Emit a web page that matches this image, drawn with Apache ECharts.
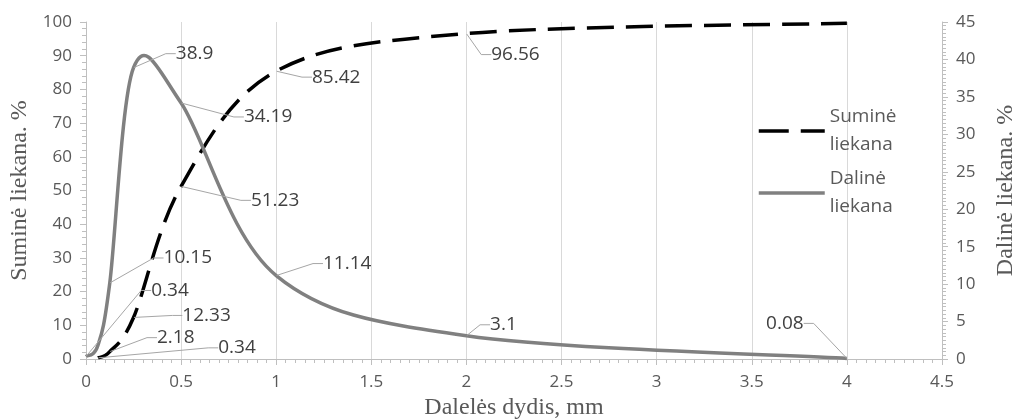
<!DOCTYPE html>
<html>
<head>
<meta charset="utf-8">
<script src="https://cdn.jsdelivr.net/npm/echarts@6/dist/echarts.min.js"></script>
<style>
  html, body { margin: 0; padding: 0; background: #ffffff; }
  #chart { width: 1016px; height: 420px; }
</style>
</head>
<body>
<div id="chart"></div>
<script>
// Particle size (mm) and residue (%) for the sieve analysis
const sizeSumine   = [0.063, 0.125, 0.25, 0.5, 1, 2, 4];
const valuesSumine = [0.34, 2.18, 12.33, 51.23, 85.42, 96.56, 99.66];
const sizeDaline   = [0, 0.063, 0.125, 0.25, 0.5, 1, 2, 4];
const valuesDaline = [0.34, 1.84, 10.15, 38.9, 34.19, 11.14, 3.1, 0.08];

// Points that carry a value callout
const labelledSumine = [true, true, true, true, true, true, false];
const labelledDaline = [true, false, true, true, true, true, true, true];

const seriesNames = ['Suminė liekana', 'Dalinė liekana'];
const xTitle = 'Dalelės dydis, mm';
const leftTitle = 'Suminė liekana. %';
const rightTitle = 'Dalinė liekana. %';

// Callout placement: offset (px) from a point to the centre of its label
const calloutSumine = [[139, -10], [66, -14], [73, -2], [94, 14], [60, 6], [49, 21], [0, 0]];
const calloutDaline = [[84, -66], [0, 0], [78, -25], [61, -14], [87, 14], [71, -12], [37, -11], [-62, -35]];

const sansFont = 'Open Sans';
const serifFont = 'Liberation Serif';
const tickColor = '#595959';
const axisColor = '#bfbfbf';

const styleSumine = { color: '#000000', width: 3.5, dash: [27, 12] };
const styleDaline = { color: '#808080', width: 3.5, dash: null };

// Smooth curve through the projected points (Catmull-Rom as cubic Bezier pieces)
function smoothPath(pts) {
  let d = 'M' + pts[0][0] + ',' + pts[0][1];
  for (let i = 0; i < pts.length - 1; i++) {
    const p0 = pts[i - 1] || pts[i];
    const p1 = pts[i];
    const p2 = pts[i + 1];
    const p3 = pts[i + 2] || p2;
    const c1x = p1[0] + (p2[0] - p0[0]) / 6, c1y = p1[1] + (p2[1] - p0[1]) / 6;
    const c2x = p2[0] - (p3[0] - p1[0]) / 6, c2y = p2[1] - (p3[1] - p1[1]) / 6;
    d += ' C' + c1x + ',' + c1y + ' ' + c2x + ',' + c2y + ' ' + p2[0] + ',' + p2[1];
  }
  return d;
}

function curveSeries(name, xs, ys, yAxisIndex, st) {
  return {
    name: name,
    type: 'custom',
    yAxisIndex: yAxisIndex,
    z: 1,
    silent: true,
    clip: false,
    data: xs.map((x, i) => [x, ys[i]]),
    encode: { x: 0, y: 1 },
    renderItem: (params, api) => {
      if (params.dataIndex !== 0) return null;
      const pts = xs.map((x, i) => api.coord([x, ys[i]]));
      return {
        type: 'path',
        shape: { pathData: smoothPath(pts) },
        style: {
          fill: 'none',
          stroke: st.color,
          lineWidth: st.width,
          lineDash: st.dash,
          lineCap: 'butt',
          lineJoin: 'round'
        }
      };
    }
  };
}

function calloutSeries(name, xs, ys, flags, offsets, yAxisIndex) {
  return {
    name: name,
    type: 'line',
    yAxisIndex: yAxisIndex,
    z: 2,
    symbol: 'circle',
    symbolSize: 1,
    showSymbol: true,
    itemStyle: { color: 'rgba(0,0,0,0)' },
    lineStyle: { opacity: 0 },
    data: xs.map((x, i) => ({ value: [x, ys[i]], label: { show: flags[i] } })),
    label: {
      position: 'inside',
      formatter: p => String(p.value[1]),
      fontFamily: sansFont,
      fontSize: 19,
      color: '#404040',
      padding: [0, 2, 0, 2]
    },
    labelLine: {
      show: true,
      length2: 10,
      lineStyle: { color: '#a6a6a6', width: 1 }
    },
    labelLayout: p => {
      const o = offsets[p.dataIndex];
      return { dx: o[0], dy: o[1] };
    },
    emphasis: { disabled: true },
    silent: true
  };
}

function legendItem(name, st, dash) {
  return {
    name: name,
    lineStyle: { color: st.color, width: st.width, type: dash || 'solid', cap: 'butt', opacity: 1 }
  };
}

const chart = echarts.init(document.getElementById('chart'), null, { renderer: 'canvas' });

chart.setOption({
  animation: false,
  backgroundColor: '#ffffff',
  grid: { left: 86, right: 74, top: 22, bottom: 61, containLabel: false, outerBoundsMode: 'none' },
  legend: {
    orient: 'vertical',
    left: 757,
    top: 89,
    padding: 0,
    itemWidth: 66,
    itemHeight: 14,
    itemGap: -22,
    data: [
      legendItem(seriesNames[0], styleSumine, [30, 12]),
      legendItem(seriesNames[1], styleDaline, null)
    ],
    formatter: name => name.replace(' ', '\n'),
    textStyle: {
      fontFamily: sansFont,
      fontSize: 19,
      color: tickColor,
      lineHeight: 28,
      padding: [28, 0, 0, 0]
    }
  },
  xAxis: {
    type: 'value',
    min: 0,
    max: 4.5,
    interval: 0.5,
    name: xTitle,
    nameLocation: 'middle',
    nameGap: 33,
    nameTextStyle: { fontFamily: serifFont, fontSize: 24, color: tickColor },
    axisLine: { show: true, lineStyle: { color: axisColor, width: 1 } },
    axisTick: { show: true, length: 6, lineStyle: { color: axisColor } },
    minorTick: { show: true, splitNumber: 10, length: 4, lineStyle: { color: axisColor } },
    axisLabel: { fontFamily: sansFont, fontSize: 17, color: tickColor, margin: 15 },
    splitLine: { show: true, lineStyle: { color: '#d9d9d9', width: 1 } }
  },
  yAxis: [
    {
      type: 'value',
      min: 0,
      max: 100,
      interval: 10,
      name: leftTitle,
      nameLocation: 'middle',
      nameGap: 45,
      nameTextStyle: { fontFamily: serifFont, fontSize: 24, color: tickColor },
      axisLine: { show: true, lineStyle: { color: axisColor, width: 1 } },
      axisTick: { show: true, length: 6, lineStyle: { color: axisColor } },
      minorTick: { show: true, splitNumber: 5, length: 4, lineStyle: { color: axisColor } },
      axisLabel: { fontFamily: sansFont, fontSize: 17, color: tickColor, margin: 14 },
      splitLine: { show: false }
    },
    {
      type: 'value',
      position: 'right',
      min: 0,
      max: 45,
      interval: 5,
      name: rightTitle,
      nameLocation: 'middle',
      nameGap: 52,
      nameRotate: 90,
      nameTextStyle: { fontFamily: serifFont, fontSize: 24, color: tickColor },
      axisLine: { show: true, lineStyle: { color: axisColor, width: 1 } },
      axisTick: { show: true, length: 6, lineStyle: { color: axisColor } },
      minorTick: { show: true, splitNumber: 10, length: 4, lineStyle: { color: axisColor } },
      axisLabel: { fontFamily: sansFont, fontSize: 17, color: tickColor, margin: 14 },
      splitLine: { show: false }
    }
  ],
  series: [
    calloutSeries(seriesNames[0], sizeSumine, valuesSumine, labelledSumine, calloutSumine, 0),
    calloutSeries(seriesNames[1], sizeDaline, valuesDaline, labelledDaline, calloutDaline, 1),
    curveSeries(seriesNames[0], sizeSumine, valuesSumine, 0, styleSumine),
    curveSeries(seriesNames[1], sizeDaline, valuesDaline, 1, styleDaline)
  ]
});
</script>
</body>
</html>
